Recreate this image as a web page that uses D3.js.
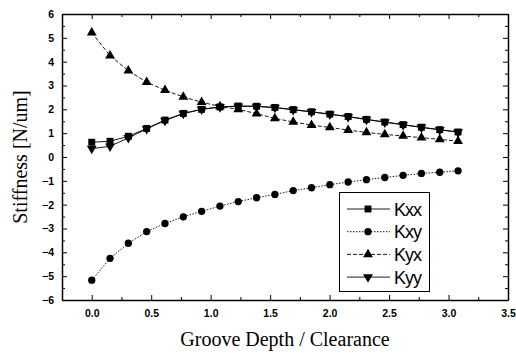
<!DOCTYPE html>
<html>
<head>
<meta charset="utf-8">
<script src="https://cdn.jsdelivr.net/npm/d3@7"></script>
<style>
  body { margin: 0; background: #fff; }
  svg { display: block; }
  .tick text { font-family: "Liberation Sans", Arial, sans-serif; font-weight: bold; font-size: 10.5px; fill: #000; }
  .domain { stroke: #000; stroke-width: 1.5px; }
  .tick line { stroke: #000; stroke-width: 1px; }
</style>
</head>
<body>
<svg id="chart" width="516" height="353"></svg>
<script>
// groove depth / clearance
const depth = [0, 0.154, 0.308, 0.462, 0.616, 0.770, 0.924, 1.078, 1.232, 1.386, 1.540,
               1.694, 1.848, 2.002, 2.156, 2.310, 2.464, 2.618, 2.772, 2.926, 3.080];
const kxx = [0.62, 0.66, 0.87, 1.20, 1.55, 1.83, 2.00, 2.10, 2.14, 2.13, 2.08,
             1.99, 1.90, 1.80, 1.70, 1.58, 1.47, 1.36, 1.25, 1.15, 1.05];
const kxy = [-5.17, -4.25, -3.62, -3.13, -2.79, -2.51, -2.28, -2.06, -1.87, -1.71, -1.57,
             -1.41, -1.29, -1.16, -1.05, -0.95, -0.86, -0.77, -0.69, -0.64, -0.58];
const kyx = [5.22, 4.25, 3.62, 3.14, 2.80, 2.52, 2.30, 2.12, 2.00, 1.82, 1.62,
             1.47, 1.34, 1.24, 1.13, 1.03, 0.95, 0.88, 0.81, 0.74, 0.66];
const kyy = [0.35, 0.45, 0.80, 1.18, 1.53, 1.82, 2.00, 2.10, 2.13, 2.12, 2.07,
             1.98, 1.89, 1.79, 1.69, 1.57, 1.46, 1.35, 1.24, 1.14, 1.04];
const seriesNames = ["Kxx", "Kxy", "Kyx", "Kyy"];
const xTicks = [0.0, 0.5, 1.0, 1.5, 2.0, 2.5, 3.0, 3.5];
const yTicks = [-6, -5, -4, -3, -2, -1, 0, 1, 2, 3, 4, 5, 6];

const plotLeft = 62, plotRight = 508, plotTop = 14, plotBottom = 300;

const svg = d3.select("#chart");

const x = d3.scaleLinear().domain([-0.25, 3.5]).range([plotLeft, plotRight]);
const y = d3.scaleLinear().domain([-6, 6]).range([plotBottom, plotTop]);

// minor ticks
const xMinor = d3.range(-0.25, 3.5001, 0.25).filter(v => Math.abs(v * 2 - Math.round(v * 2)) > 0.01);
const yMinor = d3.range(-5.5, 6, 1);

function drawMinor(axis, transform) {
  svg.append("g").attr("transform", transform)
    .call(axis.tickSize(-3).tickFormat(""))
    .call(g => g.select(".domain").remove());
}
drawMinor(d3.axisBottom(x).tickValues(xMinor), `translate(0,${plotBottom})`);
drawMinor(d3.axisTop(x).tickValues(xMinor), `translate(0,${plotTop})`);
drawMinor(d3.axisLeft(y).tickValues(yMinor), `translate(${plotLeft},0)`);
drawMinor(d3.axisRight(y).tickValues(yMinor), `translate(${plotRight},0)`);

// major axes
svg.append("g").attr("transform", `translate(0,${plotBottom})`)
  .call(d3.axisBottom(x).tickValues(xTicks).tickFormat(d3.format(".1f")).tickSizeInner(-5).tickSizeOuter(0).tickPadding(10));
svg.append("g").attr("transform", `translate(0,${plotTop})`)
  .call(d3.axisTop(x).tickValues(xTicks).tickFormat("").tickSizeInner(-5).tickSizeOuter(0));
svg.append("g").attr("transform", `translate(${plotLeft},0)`)
  .call(d3.axisLeft(y).tickValues(yTicks).tickFormat(d3.format("d")).tickSizeInner(-5).tickSizeOuter(0).tickPadding(8));
svg.append("g").attr("transform", `translate(${plotRight},0)`)
  .call(d3.axisRight(y).tickValues(yTicks).tickFormat("").tickSizeInner(-5).tickSizeOuter(0));

// axis titles
svg.append("text")
  .attr("x", (plotLeft + plotRight) / 2).attr("y", 346)
  .attr("text-anchor", "middle")
  .style("font-family", "'Liberation Serif', 'Times New Roman', serif")
  .style("font-size", "20px")
  .text("Groove Depth / Clearance");

svg.append("text")
  .attr("transform", `translate(27,${(plotTop + plotBottom) / 2}) rotate(-90)`)
  .attr("text-anchor", "middle")
  .style("font-family", "'Liberation Serif', 'Times New Roman', serif")
  .style("font-size", "20px")
  .text("Stiffness [N/um]");

// series
const series = [
  { name: "Kxx", values: kxx, dash: null, symbol: d3.symbolSquare, size: 48, rot: 0 },
  { name: "Kxy", values: kxy, dash: "1.5,1.5", symbol: d3.symbolCircle, size: 42, rot: 0 },
  { name: "Kyx", values: kyx, dash: "4,2", symbol: d3.symbolTriangle, size: 42, rot: 0 },
  { name: "Kyy", values: kyy, dash: null, symbol: d3.symbolTriangle, size: 42, rot: 180 }
];

const line = d3.line().x(d => x(d[0])).y(d => y(d[1]));

series.forEach(s => {
  const pts = depth.map((d, i) => [d, s.values[i]]);
  svg.append("path")
    .datum(pts)
    .attr("fill", "none")
    .attr("stroke", "#000")
    .attr("stroke-width", 0.9)
    .attr("stroke-dasharray", s.dash)
    .attr("d", line);
  svg.append("g").selectAll("path")
    .data(pts)
    .join("path")
    .attr("d", d3.symbol(s.symbol, s.size))
    .attr("transform", d => `translate(${x(d[0])},${y(d[1])}) rotate(${s.rot})`)
    .attr("fill", "#000");
});

// legend
const legend = svg.append("g");
legend.append("rect")
  .attr("x", 339.5).attr("y", 192.5).attr("width", 90).attr("height", 99)
  .attr("fill", "#fff").attr("stroke", "#000").attr("stroke-width", 1);

series.forEach((s, i) => {
  const ly = 209 + i * 22.7;
  legend.append("line")
    .attr("x1", 347).attr("x2", 390).attr("y1", ly).attr("y2", ly)
    .attr("stroke", "#000").attr("stroke-width", 0.9)
    .attr("stroke-dasharray", s.dash);
  legend.append("path")
    .attr("d", d3.symbol(s.symbol, s.size))
    .attr("transform", `translate(368,${ly}) rotate(${s.rot})`)
    .attr("fill", "#000");
  legend.append("text")
    .attr("x", 394).attr("y", ly + 6.5)
    .style("font-family", "'Liberation Sans', Arial, sans-serif")
    .style("font-size", "18px")
    .style("letter-spacing", "-1px")
    .text(seriesNames[i]);
});
</script>
</body>
</html>
